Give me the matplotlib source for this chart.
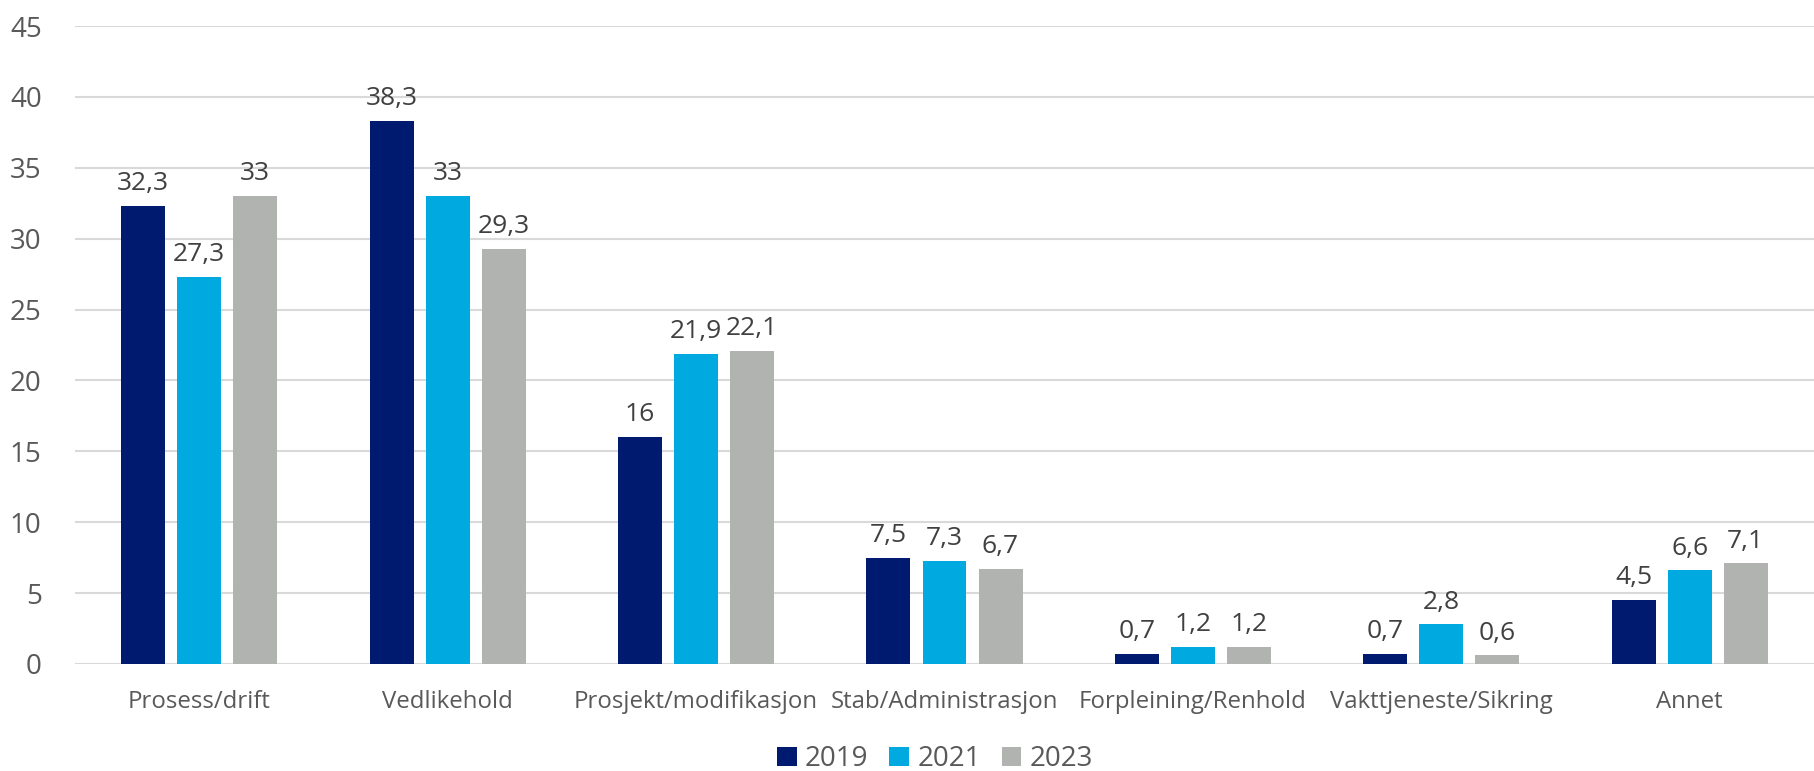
import matplotlib
matplotlib.use('Agg')
import matplotlib.pyplot as plt
import numpy as np

plt.rcParams['font.family'] = ['Open Sans', 'DejaVu Sans']

categories = ['Prosess/drift', 'Vedlikehold', 'Prosjekt/modifikasjon',
              'Stab/Administrasjon', 'Forpleining/Renhold',
              'Vakttjeneste/Sikring', 'Annet']
years = ['2019', '2021', '2023']
v2019 = [32.3, 38.3, 16, 7.5, 0.7, 0.7, 4.5]
v2021 = [27.3, 33, 21.9, 7.3, 1.2, 2.8, 6.6]
v2023 = [33, 29.3, 22.1, 6.7, 1.2, 0.6, 7.1]
colors = ['#001A70', '#00A9E0', '#B1B3B0']

fig = plt.figure(figsize=(18.14, 7.71), dpi=100)
ax = fig.add_axes([75 / 1814, (771 - 664) / 771, 1 - 75 / 1814, (664 - 26) / 771])

x = np.arange(len(categories))
w = 0.177
step = 0.2255
for i, (vals, c, yr) in enumerate(zip([v2019, v2021, v2023], colors, years)):
    bars = ax.bar(x + (i - 1) * step, vals, width=w, color=c, label=yr, zorder=3)
    labels = [('%g' % v).replace('.', ',') for v in vals]
    ax.bar_label(bars, labels=labels, padding=7, fontsize=19, color='#404040')

ax.set_xlim(-0.5, len(categories) - 0.5)
ax.set_ylim(0, 45)
ax.set_yticks(range(0, 46, 5))
ax.set_xticks(x)
ax.set_xticklabels(categories)
ax.tick_params(axis='y', length=0, pad=24, labelsize=20, labelcolor='#595959')
ax.tick_params(axis='x', length=0, pad=19, labelsize=17.3, labelcolor='#595959')
ax.grid(axis='y', color='#D9D9D9', linewidth=1.5, zorder=0)
for s in ax.spines.values():
    s.set_visible(False)

fig.legend(loc='center', bbox_to_anchor=(935 / 1814, 12 / 771), ncol=3,
           frameon=False, fontsize=20, handlelength=0.7, handleheight=0.7,
           handletextpad=0.3, columnspacing=0.75, labelcolor='#595959',
           borderpad=0)

plt.savefig('out.png', dpi=100)
